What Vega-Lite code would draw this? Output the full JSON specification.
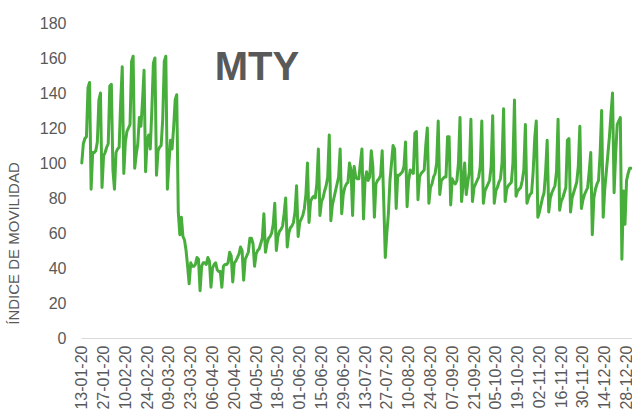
{
  "$schema": "https://vega.github.io/schema/vega-lite/v6.json",
  "width": 551,
  "height": 315,
  "autosize": "none",
  "padding": {"left": 81, "top": 23, "right": 0, "bottom": 77},
  "background": "white",
  "config": {"view": {"stroke": null}, "font": "Liberation Sans"},
  "data": {"values": [
{"d":"2020-01-13","v":100},{"d":"2020-01-14","v":111},{"d":"2020-01-15","v":114},{"d":"2020-01-16","v":115},{"d":"2020-01-17","v":143},{"d":"2020-01-18","v":146},{"d":"2020-01-19","v":85},
{"d":"2020-01-20","v":106},{"d":"2020-01-21","v":106},{"d":"2020-01-22","v":107},{"d":"2020-01-23","v":112},{"d":"2020-01-24","v":136},{"d":"2020-01-25","v":140},{"d":"2020-01-26","v":86},
{"d":"2020-01-27","v":104},{"d":"2020-01-28","v":106},{"d":"2020-01-29","v":109},{"d":"2020-01-30","v":111},{"d":"2020-01-31","v":144},{"d":"2020-02-01","v":145},{"d":"2020-02-02","v":96},
{"d":"2020-02-03","v":85},{"d":"2020-02-04","v":106},{"d":"2020-02-05","v":108},{"d":"2020-02-06","v":109},{"d":"2020-02-07","v":135},{"d":"2020-02-08","v":155},{"d":"2020-02-09","v":94},
{"d":"2020-02-10","v":112},{"d":"2020-02-11","v":118},{"d":"2020-02-12","v":120},{"d":"2020-02-13","v":122},{"d":"2020-02-14","v":158},{"d":"2020-02-15","v":161},{"d":"2020-02-16","v":97},
{"d":"2020-02-17","v":105},{"d":"2020-02-18","v":111},{"d":"2020-02-19","v":126},{"d":"2020-02-20","v":121},{"d":"2020-02-21","v":135},{"d":"2020-02-22","v":153},{"d":"2020-02-23","v":95},
{"d":"2020-02-24","v":113},{"d":"2020-02-25","v":116},{"d":"2020-02-26","v":108},{"d":"2020-02-27","v":130},{"d":"2020-02-28","v":157},{"d":"2020-02-29","v":160},{"d":"2020-03-01","v":93},
{"d":"2020-03-02","v":107},{"d":"2020-03-03","v":109},{"d":"2020-03-04","v":110},{"d":"2020-03-05","v":125},{"d":"2020-03-06","v":158},{"d":"2020-03-07","v":161},{"d":"2020-03-08","v":85},
{"d":"2020-03-09","v":100},{"d":"2020-03-10","v":113},{"d":"2020-03-11","v":108},{"d":"2020-03-12","v":120},{"d":"2020-03-13","v":136},{"d":"2020-03-14","v":139},{"d":"2020-03-15","v":72},
{"d":"2020-03-16","v":59},{"d":"2020-03-17","v":69},{"d":"2020-03-18","v":58},{"d":"2020-03-19","v":56},{"d":"2020-03-20","v":50},{"d":"2020-03-21","v":41},{"d":"2020-03-22","v":31},
{"d":"2020-03-23","v":43},{"d":"2020-03-24","v":41},{"d":"2020-03-25","v":41},{"d":"2020-03-26","v":42},{"d":"2020-03-27","v":46},{"d":"2020-03-28","v":45},{"d":"2020-03-29","v":27},
{"d":"2020-03-30","v":41},{"d":"2020-03-31","v":43},{"d":"2020-04-01","v":43},{"d":"2020-04-02","v":42},{"d":"2020-04-03","v":46},{"d":"2020-04-04","v":44},{"d":"2020-04-05","v":29},
{"d":"2020-04-06","v":40},{"d":"2020-04-07","v":42},{"d":"2020-04-08","v":43},{"d":"2020-04-09","v":39},{"d":"2020-04-10","v":38},{"d":"2020-04-11","v":38},{"d":"2020-04-12","v":29},
{"d":"2020-04-13","v":41},{"d":"2020-04-14","v":42},{"d":"2020-04-15","v":42},{"d":"2020-04-16","v":43},{"d":"2020-04-17","v":49},{"d":"2020-04-18","v":47},{"d":"2020-04-19","v":32},
{"d":"2020-04-20","v":43},{"d":"2020-04-21","v":44},{"d":"2020-04-22","v":46},{"d":"2020-04-23","v":48},{"d":"2020-04-24","v":52},{"d":"2020-04-25","v":50},{"d":"2020-04-26","v":33},
{"d":"2020-04-27","v":45},{"d":"2020-04-28","v":47},{"d":"2020-04-29","v":49},{"d":"2020-04-30","v":57},{"d":"2020-05-01","v":57},{"d":"2020-05-02","v":54},{"d":"2020-05-03","v":41},
{"d":"2020-05-04","v":48},{"d":"2020-05-05","v":50},{"d":"2020-05-06","v":51},{"d":"2020-05-07","v":54},{"d":"2020-05-08","v":57},{"d":"2020-05-09","v":71},{"d":"2020-05-10","v":49},
{"d":"2020-05-11","v":54},{"d":"2020-05-12","v":57},{"d":"2020-05-13","v":58},{"d":"2020-05-14","v":60},{"d":"2020-05-15","v":65},{"d":"2020-05-16","v":77},{"d":"2020-05-17","v":50},
{"d":"2020-05-18","v":58},{"d":"2020-05-19","v":61},{"d":"2020-05-20","v":62},{"d":"2020-05-21","v":64},{"d":"2020-05-22","v":71},{"d":"2020-05-23","v":80},{"d":"2020-05-24","v":52},
{"d":"2020-05-25","v":60},{"d":"2020-05-26","v":63},{"d":"2020-05-27","v":64},{"d":"2020-05-28","v":66},{"d":"2020-05-29","v":72},{"d":"2020-05-30","v":87},{"d":"2020-05-31","v":58},
{"d":"2020-06-01","v":66},{"d":"2020-06-02","v":68},{"d":"2020-06-03","v":70},{"d":"2020-06-04","v":74},{"d":"2020-06-05","v":82},{"d":"2020-06-06","v":100},{"d":"2020-06-07","v":66},
{"d":"2020-06-08","v":78},{"d":"2020-06-09","v":80},{"d":"2020-06-10","v":81},{"d":"2020-06-11","v":80},{"d":"2020-06-12","v":88},{"d":"2020-06-13","v":108},{"d":"2020-06-14","v":70},
{"d":"2020-06-15","v":78},{"d":"2020-06-16","v":80},{"d":"2020-06-17","v":84},{"d":"2020-06-18","v":87},{"d":"2020-06-19","v":92},{"d":"2020-06-20","v":116},{"d":"2020-06-21","v":67},
{"d":"2020-06-22","v":76},{"d":"2020-06-23","v":80},{"d":"2020-06-24","v":84},{"d":"2020-06-25","v":88},{"d":"2020-06-26","v":92},{"d":"2020-06-27","v":108},{"d":"2020-06-28","v":71},
{"d":"2020-06-29","v":82},{"d":"2020-06-30","v":86},{"d":"2020-07-01","v":88},{"d":"2020-07-02","v":89},{"d":"2020-07-03","v":100},{"d":"2020-07-04","v":96},{"d":"2020-07-05","v":70},
{"d":"2020-07-06","v":98},{"d":"2020-07-07","v":92},{"d":"2020-07-08","v":91},{"d":"2020-07-09","v":91},{"d":"2020-07-10","v":100},{"d":"2020-07-11","v":108},{"d":"2020-07-12","v":68},
{"d":"2020-07-13","v":90},{"d":"2020-07-14","v":95},{"d":"2020-07-15","v":90},{"d":"2020-07-16","v":92},{"d":"2020-07-17","v":107},{"d":"2020-07-18","v":98},{"d":"2020-07-19","v":69},
{"d":"2020-07-20","v":88},{"d":"2020-07-21","v":90},{"d":"2020-07-22","v":91},{"d":"2020-07-23","v":93},{"d":"2020-07-24","v":107},{"d":"2020-07-25","v":78},{"d":"2020-07-26","v":46},
{"d":"2020-07-27","v":60},{"d":"2020-07-28","v":71},{"d":"2020-07-29","v":90},{"d":"2020-07-30","v":100},{"d":"2020-07-31","v":110},{"d":"2020-08-01","v":108},{"d":"2020-08-02","v":74},
{"d":"2020-08-03","v":93},{"d":"2020-08-04","v":93},{"d":"2020-08-05","v":94},{"d":"2020-08-06","v":95},{"d":"2020-08-07","v":98},{"d":"2020-08-08","v":112},{"d":"2020-08-09","v":75},
{"d":"2020-08-10","v":90},{"d":"2020-08-11","v":96},{"d":"2020-08-12","v":95},{"d":"2020-08-13","v":94},{"d":"2020-08-14","v":117},{"d":"2020-08-15","v":118},{"d":"2020-08-16","v":79},
{"d":"2020-08-17","v":92},{"d":"2020-08-18","v":94},{"d":"2020-08-19","v":95},{"d":"2020-08-20","v":96},{"d":"2020-08-21","v":110},{"d":"2020-08-22","v":120},{"d":"2020-08-23","v":77},
{"d":"2020-08-24","v":86},{"d":"2020-08-25","v":88},{"d":"2020-08-26","v":92},{"d":"2020-08-27","v":94},{"d":"2020-08-28","v":100},{"d":"2020-08-29","v":124},{"d":"2020-08-30","v":82},
{"d":"2020-08-31","v":90},{"d":"2020-09-01","v":91},{"d":"2020-09-02","v":92},{"d":"2020-09-03","v":92},{"d":"2020-09-04","v":115},{"d":"2020-09-05","v":115},{"d":"2020-09-06","v":76},
{"d":"2020-09-07","v":91},{"d":"2020-09-08","v":89},{"d":"2020-09-09","v":88},{"d":"2020-09-10","v":90},{"d":"2020-09-11","v":100},{"d":"2020-09-12","v":126},{"d":"2020-09-13","v":78},
{"d":"2020-09-14","v":88},{"d":"2020-09-15","v":100},{"d":"2020-09-16","v":82},{"d":"2020-09-17","v":89},{"d":"2020-09-18","v":95},{"d":"2020-09-19","v":125},{"d":"2020-09-20","v":78},
{"d":"2020-09-21","v":86},{"d":"2020-09-22","v":88},{"d":"2020-09-23","v":90},{"d":"2020-09-24","v":92},{"d":"2020-09-25","v":98},{"d":"2020-09-26","v":124},{"d":"2020-09-27","v":77},
{"d":"2020-09-28","v":84},{"d":"2020-09-29","v":86},{"d":"2020-09-30","v":88},{"d":"2020-10-01","v":90},{"d":"2020-10-02","v":98},{"d":"2020-10-03","v":127},{"d":"2020-10-04","v":77},
{"d":"2020-10-05","v":84},{"d":"2020-10-06","v":86},{"d":"2020-10-07","v":89},{"d":"2020-10-08","v":91},{"d":"2020-10-09","v":100},{"d":"2020-10-10","v":131},{"d":"2020-10-11","v":78},
{"d":"2020-10-12","v":85},{"d":"2020-10-13","v":87},{"d":"2020-10-14","v":88},{"d":"2020-10-15","v":89},{"d":"2020-10-16","v":100},{"d":"2020-10-17","v":136},{"d":"2020-10-18","v":81},
{"d":"2020-10-19","v":84},{"d":"2020-10-20","v":85},{"d":"2020-10-21","v":86},{"d":"2020-10-22","v":90},{"d":"2020-10-23","v":96},{"d":"2020-10-24","v":122},{"d":"2020-10-25","v":77},
{"d":"2020-10-26","v":80},{"d":"2020-10-27","v":82},{"d":"2020-10-28","v":83},{"d":"2020-10-29","v":95},{"d":"2020-10-30","v":114},{"d":"2020-10-31","v":124},{"d":"2020-11-01","v":69},
{"d":"2020-11-02","v":72},{"d":"2020-11-03","v":76},{"d":"2020-11-04","v":80},{"d":"2020-11-05","v":83},{"d":"2020-11-06","v":95},{"d":"2020-11-07","v":113},{"d":"2020-11-08","v":72},
{"d":"2020-11-09","v":80},{"d":"2020-11-10","v":83},{"d":"2020-11-11","v":85},{"d":"2020-11-12","v":87},{"d":"2020-11-13","v":95},{"d":"2020-11-14","v":125},{"d":"2020-11-15","v":73},
{"d":"2020-11-16","v":78},{"d":"2020-11-17","v":80},{"d":"2020-11-18","v":83},{"d":"2020-11-19","v":86},{"d":"2020-11-20","v":113},{"d":"2020-11-21","v":114},{"d":"2020-11-22","v":72},
{"d":"2020-11-23","v":80},{"d":"2020-11-24","v":83},{"d":"2020-11-25","v":86},{"d":"2020-11-26","v":89},{"d":"2020-11-27","v":98},{"d":"2020-11-28","v":121},{"d":"2020-11-29","v":74},
{"d":"2020-11-30","v":79},{"d":"2020-12-01","v":82},{"d":"2020-12-02","v":84},{"d":"2020-12-03","v":86},{"d":"2020-12-04","v":95},{"d":"2020-12-05","v":106},{"d":"2020-12-06","v":59},
{"d":"2020-12-07","v":80},{"d":"2020-12-08","v":85},{"d":"2020-12-09","v":88},{"d":"2020-12-10","v":90},{"d":"2020-12-11","v":105},{"d":"2020-12-12","v":130},{"d":"2020-12-13","v":69},
{"d":"2020-12-14","v":85},{"d":"2020-12-15","v":95},{"d":"2020-12-16","v":105},{"d":"2020-12-17","v":115},{"d":"2020-12-18","v":128},{"d":"2020-12-19","v":140},{"d":"2020-12-20","v":83},
{"d":"2020-12-21","v":105},{"d":"2020-12-22","v":122},{"d":"2020-12-23","v":124},{"d":"2020-12-24","v":126},{"d":"2020-12-25","v":45},{"d":"2020-12-26","v":84},{"d":"2020-12-27","v":65},
{"d":"2020-12-28","v":90},{"d":"2020-12-29","v":94},{"d":"2020-12-30","v":97},{"d":"2020-12-31","v":97}
  ]},
  "encoding": {
    "x": {
      "field": "d", "type": "temporal",
      "scale": {"type": "utc", "domain": [{"year": 2020, "month": 1, "date": 12, "hours": 12, "utc": true}, {"year": 2020, "month": 12, "date": 31, "hours": 12, "utc": true}]},
      "axis": {
        "title": null, "grid": false, "ticks": false, "domain": true, "domainColor": "#d9d9d9",
        "labelExpr": "utcFormat(datum.value, '%d-%m-%y')",
        "values": [
          {"year": 2020, "month": 1, "date": 13, "utc": true},
          {"year": 2020, "month": 1, "date": 27, "utc": true},
          {"year": 2020, "month": 2, "date": 10, "utc": true},
          {"year": 2020, "month": 2, "date": 24, "utc": true},
          {"year": 2020, "month": 3, "date": 9, "utc": true},
          {"year": 2020, "month": 3, "date": 23, "utc": true},
          {"year": 2020, "month": 4, "date": 6, "utc": true},
          {"year": 2020, "month": 4, "date": 20, "utc": true},
          {"year": 2020, "month": 5, "date": 4, "utc": true},
          {"year": 2020, "month": 5, "date": 18, "utc": true},
          {"year": 2020, "month": 6, "date": 1, "utc": true},
          {"year": 2020, "month": 6, "date": 15, "utc": true},
          {"year": 2020, "month": 6, "date": 29, "utc": true},
          {"year": 2020, "month": 7, "date": 13, "utc": true},
          {"year": 2020, "month": 7, "date": 27, "utc": true},
          {"year": 2020, "month": 8, "date": 10, "utc": true},
          {"year": 2020, "month": 8, "date": 24, "utc": true},
          {"year": 2020, "month": 9, "date": 7, "utc": true},
          {"year": 2020, "month": 9, "date": 21, "utc": true},
          {"year": 2020, "month": 10, "date": 5, "utc": true},
          {"year": 2020, "month": 10, "date": 19, "utc": true},
          {"year": 2020, "month": 11, "date": 2, "utc": true},
          {"year": 2020, "month": 11, "date": 16, "utc": true},
          {"year": 2020, "month": 11, "date": 30, "utc": true},
          {"year": 2020, "month": 12, "date": 14, "utc": true},
          {"year": 2020, "month": 12, "date": 28, "utc": true}
        ],
        "labelAngle": -90, "labelAlign": "right", "labelBaseline": "middle", "labelPadding": 7,
        "labelFontSize": 16, "labelColor": "#595959", "labelFont": "Liberation Sans",
        "labelOverlap": false, "labelFlush": false, "labelBound": false
      }
    },
    "y": {
      "field": "v", "type": "quantitative",
      "scale": {"domain": [0, 180], "nice": false, "zero": true},
      "axis": {
        "title": "ÍNDICE DE MOVILIDAD", "titleFontSize": 15, "titleFontWeight": "normal", "titleColor": "#595959", "titleFont": "Liberation Sans",
        "titleAngle": -90, "titleX": -68, "titleY": 220, "titleAlign": "center", "titleBaseline": "middle",
        "values": [0, 20, 40, 60, 80, 100, 120, 140, 160, 180],
        "grid": false, "ticks": false, "domain": false,
        "labelFontSize": 16, "labelColor": "#595959", "labelFont": "Liberation Sans", "labelPadding": 15
      }
    }
  },
  "layer": [
    {
      "mark": {"type": "line", "color": "#48AE3B", "strokeWidth": 3, "strokeJoin": "round", "strokeCap": "round"}
    },
    {
      "transform": [{"filter": "datum.v == 146"}],
      "mark": {"type": "text", "text": "MTY", "align": "center", "baseline": "alphabetic", "fontSize": 40, "fontWeight": "bold", "color": "#595959", "font": "Liberation Sans"},
      "encoding": {
        "x": {"datum": {"year": 2020, "month": 5, "date": 4, "hours": 12, "utc": true}, "type": "temporal"},
        "y": {"datum": 147.4, "type": "quantitative"}
      }
    }
  ]
}
